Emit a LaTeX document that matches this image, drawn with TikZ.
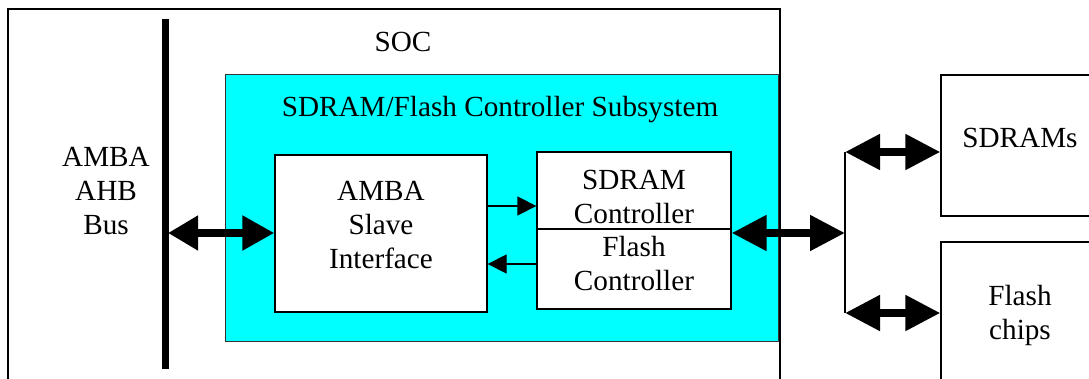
\documentclass[tikz,border=0pt]{standalone}
\usepackage{fontspec}
\setmainfont{Liberation Serif}
\usetikzlibrary{arrows.meta}
\definecolor{aqua}{RGB}{0,255,255}
\tikzset{
  box/.style={draw=black, line width=1.3pt, fill=white, inner sep=0pt},
  lbl/.style={align=center, inner sep=0pt, font=\fontsize{29.2}{34}\selectfont},
  big/.style={line width=8pt, {Triangle[length=30pt,width=33pt]}-{Triangle[length=32pt,width=33pt]}},
  bigR/.style={line width=8pt, {Triangle[length=35pt,width=34pt]}-{Triangle[length=35pt,width=34pt]}},
  small/.style={line width=1.3pt, -{Triangle[length=19pt,width=19pt]}},
}
\begin{document}
\begin{tikzpicture}[x=1pt,y=-1pt]
\useasboundingbox (0,0) rectangle (1089,379);
\clip (0,0) rectangle (1089,379);
\fill[white] (0,0) rectangle (1089,379);
% SOC box
\node[box, minimum width=772pt, minimum height=400pt] (soc) at (394,209) {};
\node[lbl] (socl) at (403,42) {SOC};
% bus
\coordinate (bustop) at (165,19);
\coordinate (busbot) at (165,369);
\draw[line width=7pt] (bustop) -- (busbot);
\node[lbl] (busl) at (106,191) {AMBA\\AHB\\Bus};
% subsystem
\node[draw=black!80, line width=1pt, fill=aqua, inner sep=0pt, minimum width=553pt, minimum height=266pt] (sub) at (501.5,208) {};
\node[lbl] (subl) at (500,110) {SDRAM/Flash Controller Subsystem};
% slave
\node[box, minimum width=212pt, minimum height=157pt] (slave) at (381,233.5) {};
\node[lbl] (slavel) at (381,225) {AMBA\\Slave\\Interface};
% controllers
\node[box, minimum width=194pt, minimum height=77pt] (sdc) at (634,190.5) {};
\node[lbl] (sdcl) at (634,197) {SDRAM\\Controller};
\node[box, minimum width=194pt, minimum height=80pt] (flc) at (634,269) {};
\node[lbl] (flcl) at (634,264) {Flash\\Controller};
% inner arrows
\draw[small] (slave.east |- 0,206) -- (sdc.west |- 0,206);
\draw[small] (flc.west |- 0,264) -- (slave.east |- 0,264);
% bus to slave
\coordinate (busmid) at (168,233);
\draw[big] (busmid) -- (slave.west |- busmid);
% right side
\coordinate (split) at (845,233);
\coordinate (jtop) at (845,152);
\coordinate (jbot) at (845,313);
\draw[bigR] (sdc.east |- split) -- (split);
\draw[line width=1.3pt] (jtop) -- (jbot);
% external
\node[box, minimum width=208pt, minimum height=141pt] (sdrams) at (1045,145.5) {};
\node[lbl] (sdramsl) at (1020,138) {SDRAMs};
\node[box, minimum width=208pt, minimum height=200pt] (flash) at (1045,342) {};
\node[lbl] (flashl) at (1020,315) {Flash\\chips};
\draw[bigR] (jtop) -- (sdrams.west |- jtop);
\draw[bigR] (jbot) -- (flash.west |- jbot);
\end{tikzpicture}
\end{document}
